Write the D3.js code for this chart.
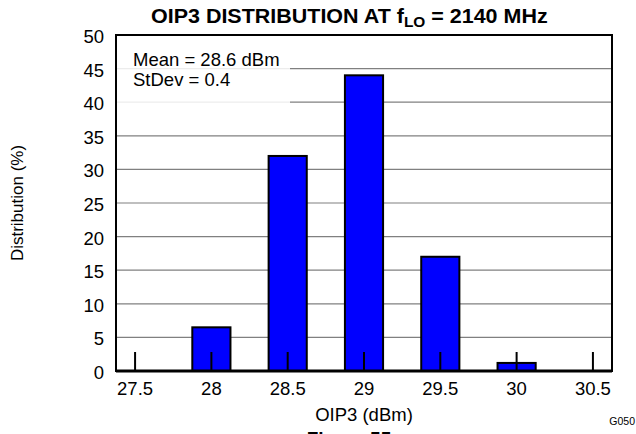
<!DOCTYPE html>
<html><head><meta charset="utf-8">
<script src="https://cdn.jsdelivr.net/npm/d3@7"></script>
<style>body{margin:0;background:#fff;} text{font-family:"Liberation Sans",Arial,sans-serif;}</style>
</head><body>
<svg id="c" width="636" height="434"></svg>
<script>
const categories = [27.5, 28, 28.5, 29, 29.5, 30, 30.5];
const distribution = [0, 6.5, 32, 44, 17, 1.2, 0];
const yTicks = [0, 5, 10, 15, 20, 25, 30, 35, 40, 45, 50];
const xTickLabels = ["27.5", "28", "28.5", "29", "29.5", "30", "30.5"];
const legendLines = ["Mean = 28.6 dBm", "StDev = 0.4"];

const svg = d3.select("#c");
const L = 116, R = 612, T = 35, B = 371;
const x = d3.scaleLinear().domain([27.375, 30.625]).range([L, R]);
const y = d3.scaleLinear().domain([0, 50]).range([B, T]);
const barW = x(27.625) - x(27.375);

// gridlines
svg.append("g").selectAll("line").data(yTicks.filter(d => d > 0 && d < 50)).join("line")
  .attr("x1", L).attr("x2", R).attr("y1", d => y(d)).attr("y2", d => y(d))
  .attr("stroke", "#808080").attr("stroke-width", 1.2);

// legend box background
svg.append("rect").attr("x", L + 1).attr("y", T + 1).attr("width", 290 - L - 1).attr("height", 103 - T - 1)
  .attr("fill", "#fff").attr("opacity", 0.85);
svg.append("g").selectAll("text").data(legendLines).join("text")
  .attr("x", 133).attr("y", (d, i) => 66 + i * 20).attr("font-size", 18.5).attr("fill", "#000").text(d => d);

// bars
svg.append("g").selectAll("rect").data(categories.map((c, i) => ({c, v: distribution[i]})).filter(d => d.v > 0)).join("rect")
  .attr("x", d => x(d.c) - barW / 2).attr("width", barW)
  .attr("y", d => y(d.v)).attr("height", d => y(0) - y(d.v))
  .attr("fill", "#0000ff").attr("stroke", "#000").attr("stroke-width", 2);

// inside tick marks
svg.append("g").selectAll("line").data(categories).join("line")
  .attr("x1", d => x(d)).attr("x2", d => x(d)).attr("y1", B).attr("y2", B - 19)
  .attr("stroke", "#000").attr("stroke-width", 2);

// frame
svg.append("rect").attr("x", L).attr("y", T).attr("width", R - L).attr("height", B - T)
  .attr("fill", "none").attr("stroke", "#000").attr("stroke-width", 2);
svg.append("line").attr("x1", L).attr("x2", R).attr("y1", B).attr("y2", B).attr("stroke", "#000").attr("stroke-width", 3);

// y tick labels
svg.append("g").selectAll("text").data(yTicks).join("text")
  .attr("x", 104).attr("y", d => y(d) + 8).attr("text-anchor", "end").attr("font-size", 18.5).text(d => d);

// x tick labels
svg.append("g").selectAll("text").data(categories).join("text")
  .attr("x", d => x(d)).attr("y", 395).attr("text-anchor", "middle").attr("font-size", 18.5)
  .text((d, i) => xTickLabels[i]);

// axis titles
svg.append("text").attr("x", 364).attr("y", 421).attr("text-anchor", "middle").attr("font-size", 18.5).text("OIP3 (dBm)");
svg.append("text").attr("transform", "translate(23,203) rotate(-90)").attr("text-anchor", "middle").attr("font-size", 17).text("Distribution (%)");

// title
const tx = 151;
const t = svg.append("text").attr("x", tx).attr("y", 23)
  .attr("font-size", 19.5).attr("font-weight", "bold");
t.append("tspan").text("OIP3 DISTRIBUTION AT f");
t.append("tspan").attr("font-size", 14).attr("dy", 4).text("LO");
t.append("tspan").attr("dy", -4).text(" = 2140 MHz");
const tw = t.node().getComputedTextLength();
const sx = 397 / tw;
t.attr("transform", `translate(${tx},0) scale(${sx},1) translate(${-tx},0)`);

svg.append("text").attr("x", 635).attr("y", 425).attr("text-anchor", "end").attr("font-size", 10.5).text("G050");
svg.append("text").attr("x", 349).attr("y", 445).attr("text-anchor", "middle").attr("font-size", 19).attr("font-weight", "bold").text("Figure 55");
</script>
</body></html>
